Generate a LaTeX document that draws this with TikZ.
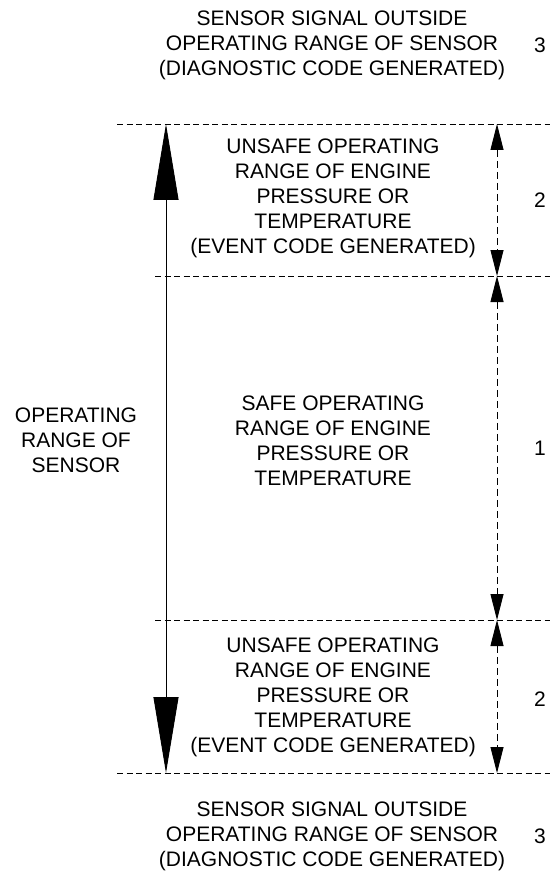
\documentclass[tikz,border=0pt]{standalone}
\usepackage{fontspec}
\setmainfont{Liberation Sans}
\usetikzlibrary{arrows.meta}

\begin{document}
\begin{tikzpicture}[x=1pt, y=-1pt,
  every node/.style={font=\fontsize{21}{25}\selectfont, align=center, inner sep=0pt},
  limit/.style={draw=black, line width=0.9pt, dash pattern=on 6pt off 3.5pt},
  bigarrow/.style={draw=black, line width=0.9pt,
    {Triangle[length=76pt,width=25pt]}-{Triangle[length=76pt,width=25pt]}},
  zonearrow/.style={draw=black, line width=0.9pt, dash pattern=on 7pt off 4pt,
    {Triangle[length=26pt,width=13pt]}-{Triangle[length=26pt,width=13pt]}}]
  \useasboundingbox (0,0) rectangle (554,885);

  % limits of the ranges
  \coordinate (hiL) at (117,124);  \coordinate (hiR) at (550,124);
  \coordinate (upL) at (155,276);  \coordinate (upR) at (550,276);
  \coordinate (lwL) at (155,620);  \coordinate (lwR) at (550,620);
  \coordinate (loL) at (117,773);  \coordinate (loR) at (550,773);
  \path[limit] (hiL) -- (hiR) (upL) -- (upR) (lwL) -- (lwR) (loL) -- (loR);

  % operating range of the sensor
  \coordinate (sensTop) at (166,124);
  \coordinate (sensBot) at (166,773);
  \path[bigarrow] (sensTop) -- (sensBot);

  % zones
  \coordinate (z1) at (497,124);
  \coordinate (z2) at (497,276);
  \coordinate (z3) at (497,620);
  \coordinate (z4) at (497,773);
  \path[zonearrow] (z1) -- (z2);
  \path[zonearrow] (z2) -- (z3);
  \path[zonearrow] (z3) -- (z4);

  \node (outHi) at (332,45) {SENSOR SIGNAL OUTSIDE\\OPERATING RANGE OF SENSOR\\(DIAGNOSTIC CODE GENERATED)};
  \node (unsafeHi) at (333,198) {UNSAFE OPERATING\\RANGE OF ENGINE\\PRESSURE OR\\TEMPERATURE\\(EVENT CODE GENERATED)};
  \node (safe) at (333,441) {SAFE OPERATING\\RANGE OF ENGINE\\PRESSURE OR\\TEMPERATURE};
  \node (unsafeLo) at (333,697) {UNSAFE OPERATING\\RANGE OF ENGINE\\PRESSURE OR\\TEMPERATURE\\(EVENT CODE GENERATED)};
  \node (outLo) at (332,836) {SENSOR SIGNAL OUTSIDE\\OPERATING RANGE OF SENSOR\\(DIAGNOSTIC CODE GENERATED)};
  \node (sensor) at (76,440) {OPERATING\\RANGE OF\\SENSOR};

  \node (numHi) at (540,45) {3};
  \node (num2a) at (540,200) {2};
  \node (num1) at (540,448) {1};
  \node (num2b) at (540,699) {2};
  \node (numLo) at (540,836) {3};
\end{tikzpicture}
\end{document}
